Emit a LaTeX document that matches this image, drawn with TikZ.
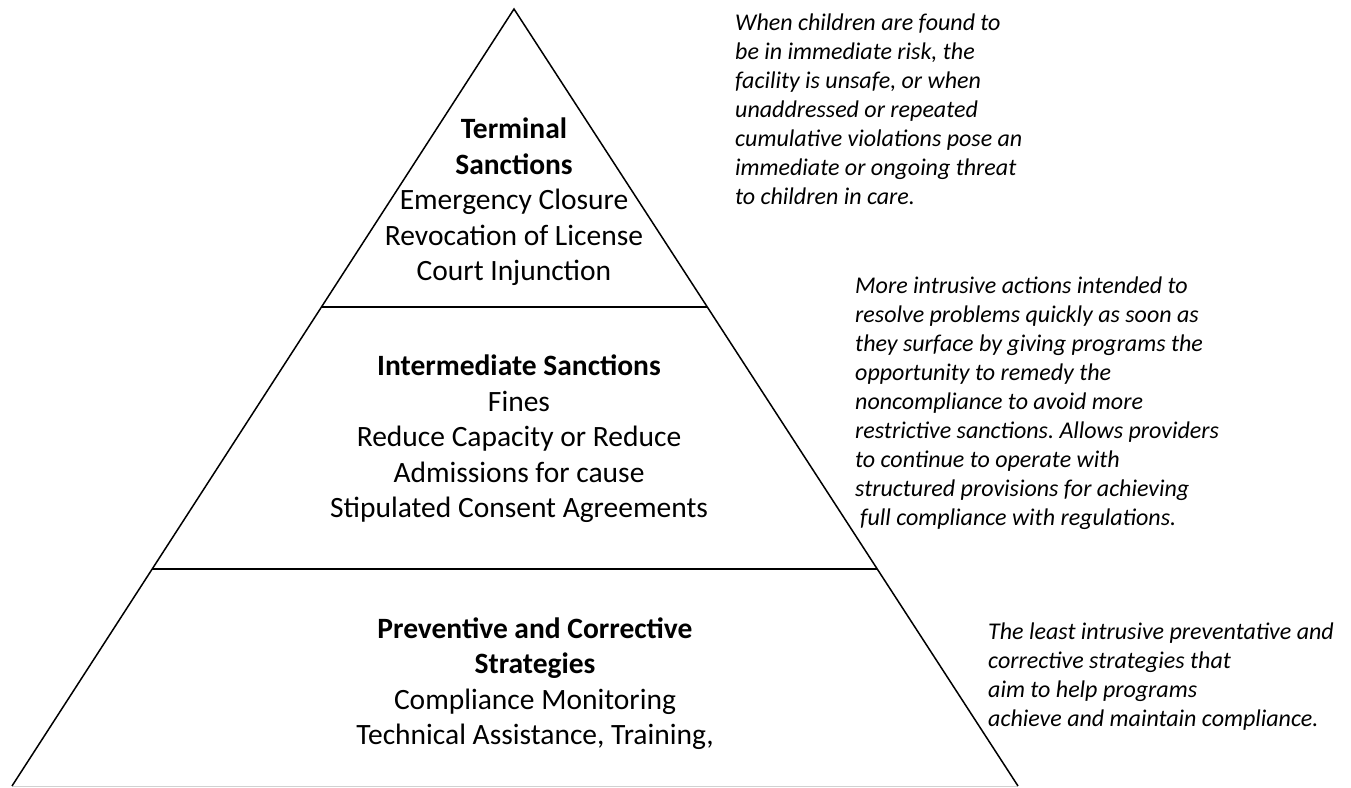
\documentclass[tikz,border=0pt]{standalone}
\usepackage{fontspec}
\setmainfont{Carlito}
\usetikzlibrary{calc}
\frenchspacing
\begin{document}
\begin{tikzpicture}[x=1pt,y=-1pt,
  edge/.style={line width=1.5pt, line join=miter},
  baseedge/.style={line width=1pt, draw=black!18},
  tier/.style={line width=2.5pt},
  tiertext/.style={align=center, inner sep=0pt, anchor=north, font=\fontsize{29.5}{35.5}\selectfont},
  note/.style={align=left, inner sep=0pt, anchor=north west, font=\fontsize{24}{29}\selectfont\itshape}]
\useasboundingbox (0,0) rectangle (1351,787);
% triangle corners
\coordinate (apex) at (514,9);
\coordinate (bl) at (12,786);
\coordinate (br) at (1018,786);
\coordinate (l1) at ($(apex)!0.3835!(bl)$);
\coordinate (r1) at ($(apex)!0.3835!(br)$);
\coordinate (l2) at ($(apex)!0.7207!(bl)$);
\coordinate (r2) at ($(apex)!0.7207!(br)$);
\draw[baseedge] (bl) -- (br);
\draw[edge] (bl) -- (apex) -- (br);
\draw[tier] (l1) -- (r1);
\draw[tier] (l2) -- (r2);
% tier texts
\node[tiertext] (terminal) at (514,108.5) {\rule{0pt}{30pt}\textbf{Terminal}\\ \textbf{Sanctions}\\ Emergency Closure\\ Revocation of License\\ Court Injunction};
\node[tiertext] (intermediate) at (519,345.5) {\rule{0pt}{30pt}\textbf{Intermediate Sanctions}\\ Fines\\ Reduce Capacity or Reduce\\ Admissions for cause\\ Stipulated Consent Agreements};
\node[tiertext] (preventive) at (535,608) {\rule{0pt}{30pt}\textbf{Preventive and Corrective}\\ \textbf{Strategies}\\ Compliance Monitoring\\ Technical Assistance, Training,};
% notes
\node[note] (noteTop) at (735,4.8) {\rule{0pt}{25pt}When children are found to\\ be in immediate risk, the\\ facility is unsafe, or when\\ unaddressed or repeated\\ cumulative violations pose an\\ immediate or ongoing threat\\ to children in care.};
\node[note] (noteMid) at (855,268) {\rule{0pt}{25pt}More intrusive actions intended to\\ resolve problems quickly as soon as\\ they surface by giving programs the\\ opportunity to remedy the\\ noncompliance to avoid more\\ restrictive sanctions. Allows providers\\ to continue to operate with\\ structured provisions for achieving\\ \hspace*{5pt}full compliance with regulations.};
\node[note] (noteBot) at (988,614) {\rule{0pt}{25pt}The least intrusive preventative and\\ corrective strategies that\\ aim to help programs\\ achieve and maintain compliance.};
\end{tikzpicture}
\end{document}
